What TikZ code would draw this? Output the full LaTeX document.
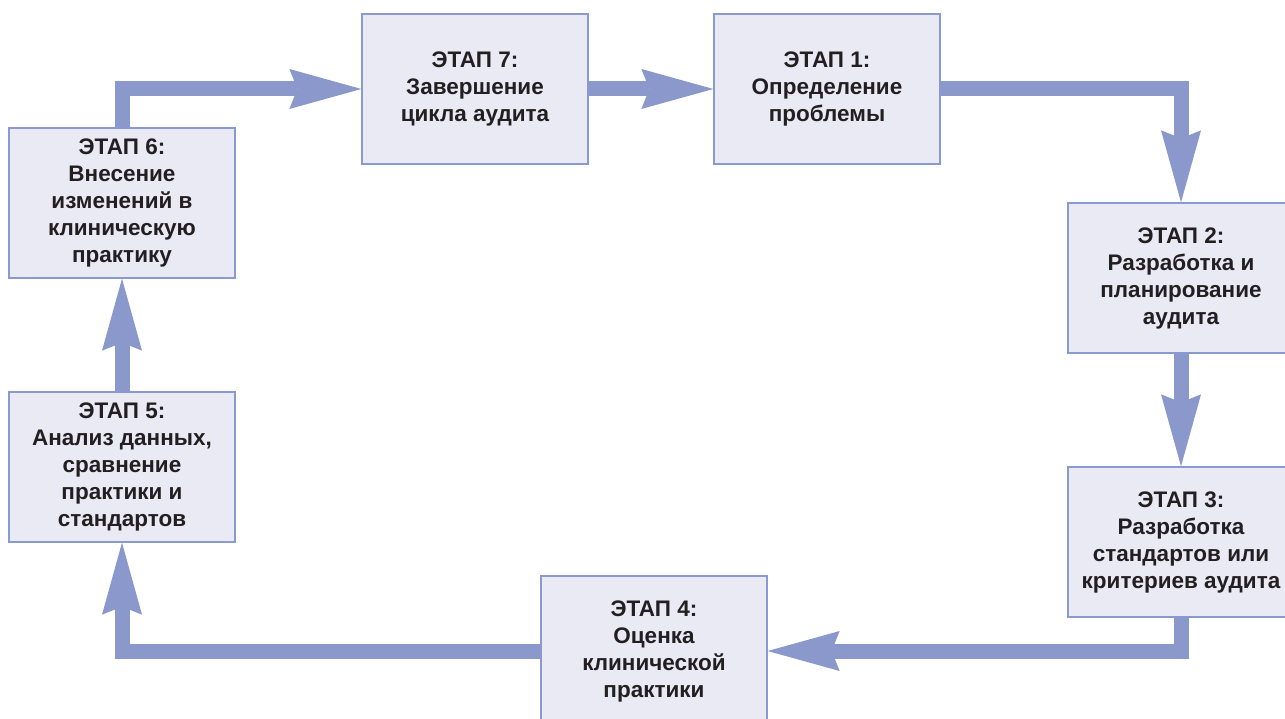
\documentclass[tikz,border=0pt]{standalone}
\usepackage{fontspec}
\setmainfont{Liberation Sans}
\usetikzlibrary{arrows.meta}
\definecolor{arrowc}{RGB}{138,152,203}
\definecolor{boxfill}{RGB}{234,234,245}
\definecolor{boxline}{RGB}{138,154,208}
\definecolor{txt}{RGB}{35,31,32}
\tikzset{
  stage/.style={draw=boxline, fill=boxfill, line width=1.3pt, minimum width=226pt, minimum height=150pt, inner sep=0pt, align=center, text=txt, font=\fontsize{22.5}{27}\selectfont\bfseries},
  arr/.style={draw=arrowc, line width=15pt, -{Stealth[length=72pt,width=40pt,inset=8pt,line width=0pt]}}
}
\begin{document}
\begin{tikzpicture}[x=1pt,y=-1pt]
\clip (0,0) rectangle (1285,719);
\useasboundingbox (0,0) rectangle (1285,719);
\node[stage] (b7) at (475,89) {ЭТАП 7:\\Завершение\\цикла аудита};
\node[stage] (b1) at (827,89) {ЭТАП 1:\\Определение\\проблемы};
\node[stage] (b2) at (1181,278) {ЭТАП 2:\\Разработка и\\планирование\\аудита};
\node[stage] (b3) at (1181,542) {ЭТАП 3:\\Разработка\\стандартов или\\критериев аудита};
\node[stage] (b4) at (654,651) {ЭТАП 4:\\Оценка\\клинической\\практики};
\node[stage] (b5) at (122,467) {ЭТАП 5:\\Анализ данных,\\сравнение\\практики и\\стандартов};
\node[stage] (b6) at (122,203) {ЭТАП 6:\\Внесение\\изменений в\\клиническую\\практику};
\draw[arr] (b6.north) |- (b7.west);
\draw[arr] (b7.east) -- (b1.west);
\draw[arr] (b1.east) -| (b2.north);
\draw[arr] (b2.south) -- (b3.north);
\draw[arr] (b3.south) |- (b4.east);
\draw[arr] (b4.west) -| (b5.south);
\draw[arr] (b5.north) -- (b6.south);
\end{tikzpicture}
\end{document}
